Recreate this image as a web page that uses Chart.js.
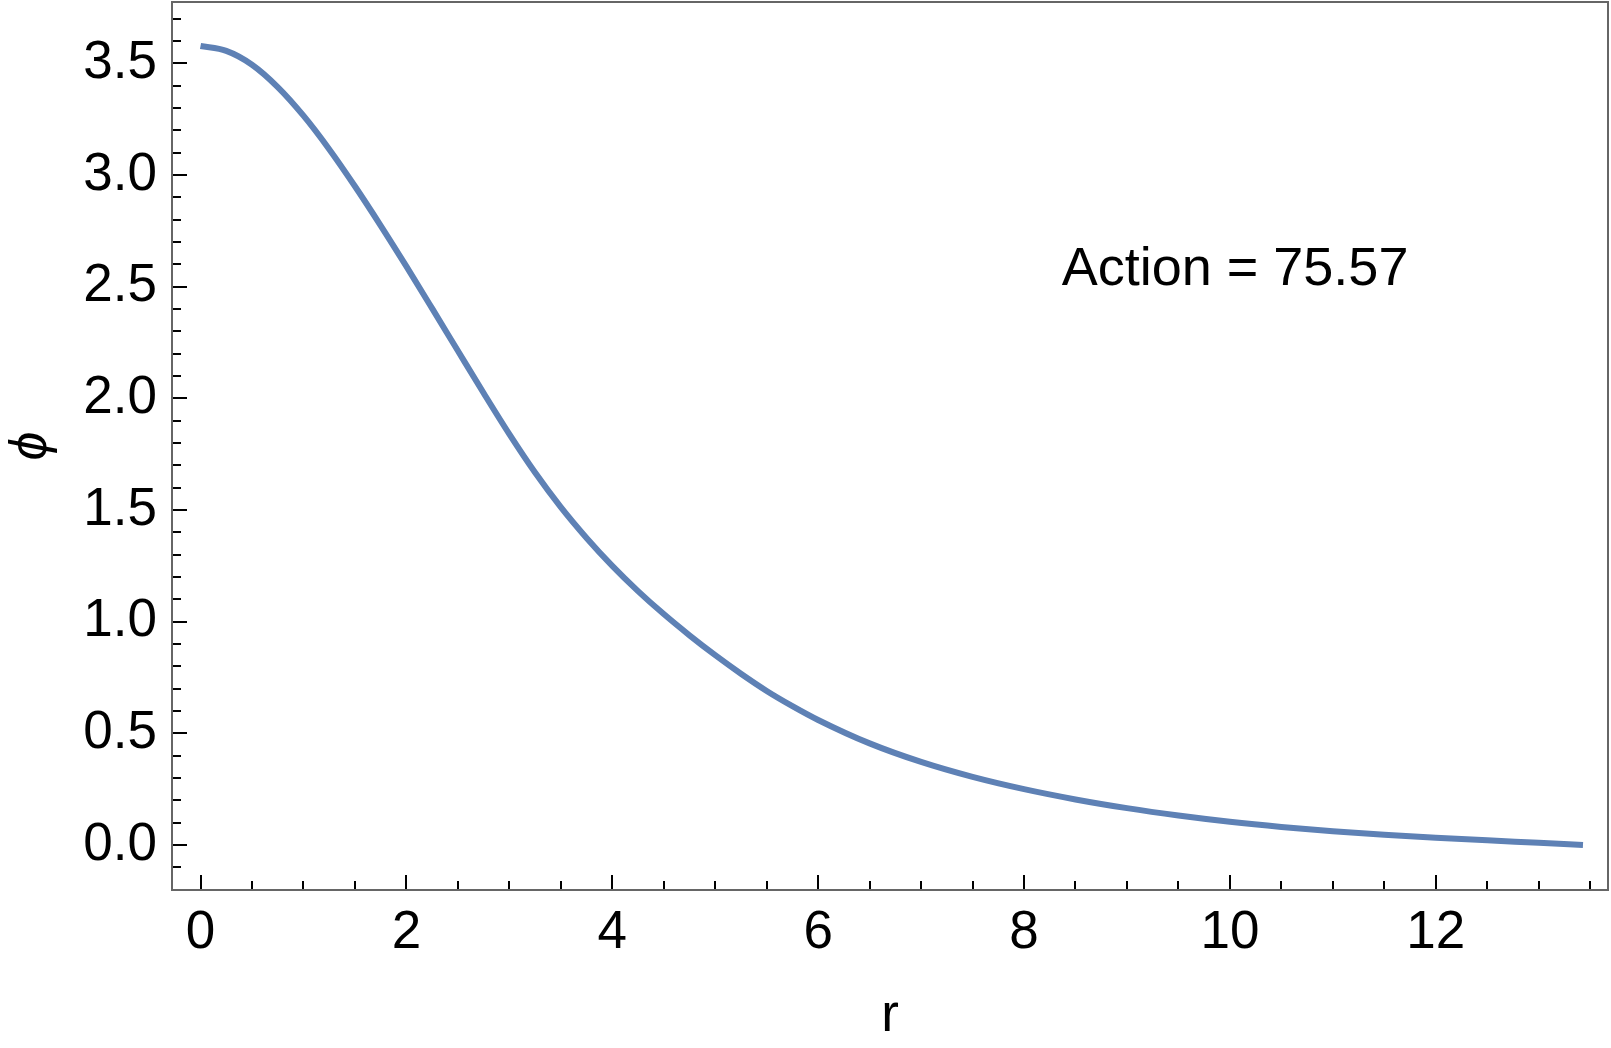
<!DOCTYPE html>
<html>
<head>
<meta charset="utf-8">
<script src="https://cdn.jsdelivr.net/npm/chart.js@4.4.1/dist/chart.umd.min.js"></script>
<style>
  html, body { margin: 0; padding: 0; background: #fff; }
  canvas { display: block; }
</style>
</head>
<body>
<canvas id="chart" width="1611" height="1048"></canvas>
<script>
// profile phi(r)
const rValues = [0, 0.25, 0.5, 0.75, 1, 1.25, 1.5, 1.75, 2, 2.25, 2.5, 2.75, 3, 3.25, 3.5, 3.75,
  4, 4.25, 4.5, 4.75, 5, 5.25, 5.5, 5.75, 6, 6.5, 7, 7.5, 8, 8.5, 9, 9.5, 10, 10.5, 11, 11.5, 12, 12.5, 13, 13.43]
const phiValues = [3.578, 3.556, 3.494, 3.394, 3.266, 3.116, 2.95, 2.774, 2.591, 2.403, 2.213, 2.024, 1.84, 1.668, 1.513, 1.375,
  1.25, 1.137, 1.034, 0.939, 0.85, 0.767, 0.69, 0.622, 0.56, 0.455, 0.372, 0.305, 0.25, 0.204, 0.165, 0.132, 0.104, 0.081, 0.062, 0.046, 0.033, 0.021, 0.01, 0]

const xTickValues = [0, 2, 4, 6, 8, 10, 12]
const yTickValues = [0, 0.5, 1, 1.5, 2, 2.5, 3, 3.5]
const note = { text: 'Action = 75.57', r: 10.05, phi: 2.575 }

const font = { family: '"Liberation Sans", Arial, sans-serif', size: 53 }

// Mathematica style frame with inward major / minor ticks
const frameTicks = {
  id: 'frameTicks',
  afterDraw (chart) {
    const { ctx, chartArea: a, scales: { x, y } } = chart
    ctx.save()
    ctx.strokeStyle = '#000'
    ctx.lineWidth = 2
    ctx.beginPath()
    for (let i = Math.ceil(x.min / 0.5); i * 0.5 <= x.max; i++) {
      const px = Math.round(x.getPixelForValue(i * 0.5))
      const len = i % 4 === 0 ? 15 : 9
      ctx.moveTo(px, a.bottom)
      ctx.lineTo(px, a.bottom - len)
    }
    for (let i = Math.ceil(y.min * 10); i / 10 <= y.max; i++) {
      const py = Math.round(y.getPixelForValue(i / 10))
      const len = i % 5 === 0 ? 15 : 9
      ctx.moveTo(a.left, py)
      ctx.lineTo(a.left + len, py)
    }
    ctx.stroke()

    ctx.strokeStyle = '#666'
    ctx.strokeRect(a.left, a.top, a.right - a.left, a.bottom - a.top)

    ctx.fillStyle = '#000'
    ctx.font = '54px "Liberation Sans", Arial, sans-serif'
    ctx.textAlign = 'center'
    ctx.textBaseline = 'middle'
    ctx.fillText(note.text, x.getPixelForValue(note.r), y.getPixelForValue(note.phi))
    ctx.restore()
  }
}

new Chart(document.getElementById('chart'), {
  type: 'line',
  data: {
    datasets: [{
      data: rValues.map((r, i) => ({ x: r, y: phiValues[i] })),
      borderColor: '#5e81b5',
      borderWidth: 6,
      borderCapStyle: 'butt',
      pointRadius: 0,
      cubicInterpolationMode: 'monotone',
      fill: false
    }]
  },
  options: {
    responsive: false,
    animation: false,
    layout: { padding: { top: 2, right: 3, left: 0, bottom: 0 } },
    plugins: {
      legend: { display: false },
      tooltip: { enabled: false }
    },
    scales: {
      x: {
        type: 'linear',
        min: -0.277,
        max: 13.673,
        afterBuildTicks: s => { s.ticks = xTickValues.map(value => ({ value })) },
        afterFit: s => {
          s.height = 158
          s.paddingLeft = 0
          s.paddingRight = 0
        },
        grid: { display: false, drawTicks: false },
        border: { display: false },
        ticks: { font, color: '#000', padding: 12, maxRotation: 0, callback: v => String(v) },
        title: { display: true, text: 'r', font, color: '#000', padding: 0 }
      },
      y: {
        type: 'linear',
        min: -0.2015,
        max: 3.775,
        afterBuildTicks: s => { s.ticks = yTickValues.map(value => ({ value })) },
        afterFit: s => {
          s.width = 172
          s.paddingTop = 0
          s.paddingBottom = 0
        },
        grid: { display: false, drawTicks: false },
        border: { display: false },
        ticks: { font, color: '#000', padding: 15, callback: v => v.toFixed(1) },
        title: {
          display: true,
          text: 'ϕ',
          font: { family: '"Liberation Sans", Arial, sans-serif', size: 52, style: 'italic' },
          color: '#000',
          padding: 0
        }
      }
    }
  },
  plugins: [frameTicks]
})
</script>
</body>
</html>
